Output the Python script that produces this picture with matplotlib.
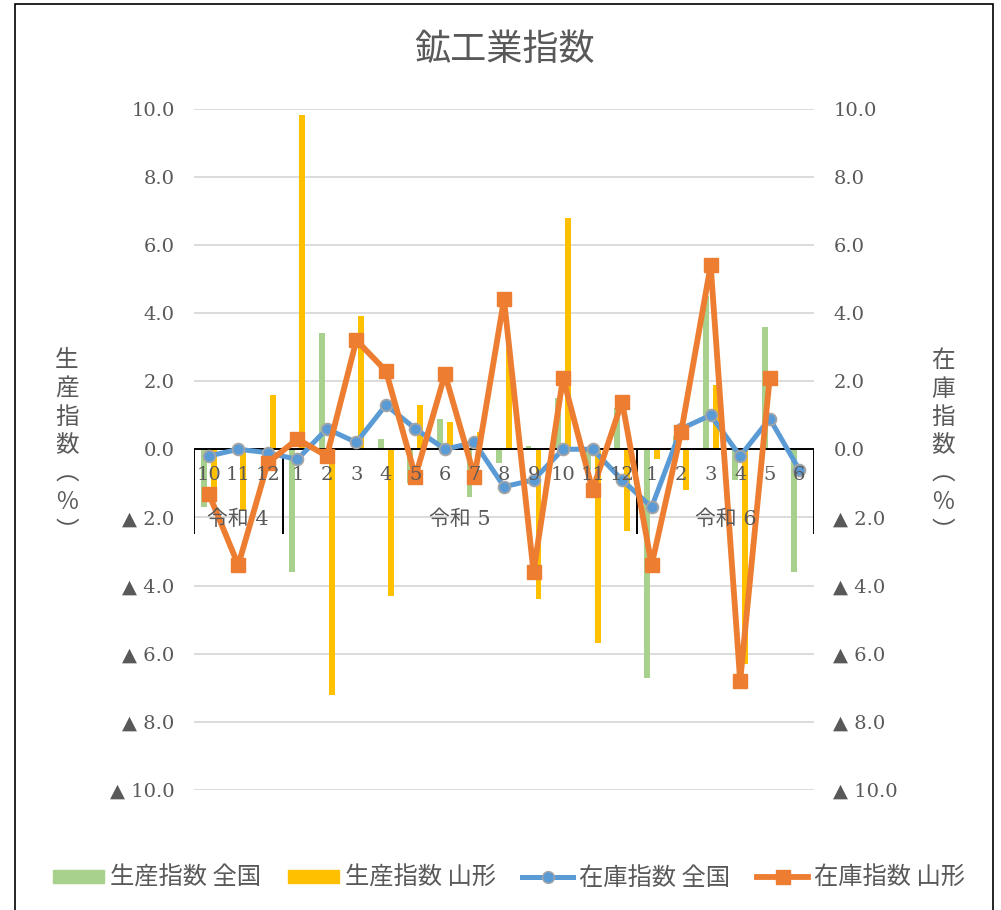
import numpy as np
import matplotlib.pyplot as plt
from matplotlib.lines import Line2D
from matplotlib.patches import Patch, Rectangle

plt.rcParams['font.family'] = ['Noto Sans CJK JP', 'DejaVu Sans']

# data (前年同月比 %)
months = ['10', '11', '12',
          '1', '2', '3', '4', '5', '6', '7', '8', '9', '10', '11', '12',
          '1', '2', '3', '4', '5', '6']
eras = ['令和 4', '令和 5', '令和 6']
era_len = [3, 12, 6]

prod_all = [-1.7, 0.0, -0.1,
            -3.6, 3.4, 0.0, 0.3, -1.0, 0.9, -1.4, -0.4, 0.1, 1.5, -0.6, 1.2,
            -6.7, 0.4, 4.5, -0.9, 3.6, -3.6]
prod_yama = [-1.2, -1.8, 1.6,
             9.8, -7.2, 3.9, -4.3, 1.3, 0.8, 0.5, 3.0, -4.4, 6.8, -5.7, -2.4,
             -0.3, -1.2, 1.9, -6.3, 0.0, np.nan]
stock_all = [-0.2, 0.0, -0.1,
             -0.3, 0.6, 0.2, 1.3, 0.6, 0.0, 0.2, -1.1, -0.9, 0.0, 0.0, -0.9,
             -1.7, 0.6, 1.0, -0.2, 0.9, -0.6]
stock_yama = [-1.3, -3.4, -0.4,
              0.3, -0.2, 3.2, 2.3, -0.8, 2.2, -0.8, 4.4, -3.6, 2.1, -1.2, 1.4,
              -3.4, 0.5, 5.4, -6.8, 2.1, np.nan]

labels = ['生産指数 全国', '生産指数 山形', '在庫指数 全国', '在庫指数 山形']
c_green, c_yellow, c_blue, c_orange = '#A9D18E', '#FFC000', '#5B9BD5', '#ED7D31'
grey = '#595959'
serif = ['DejaVu Serif', 'DejaVu Sans']

W, H = 1001, 910
fig = plt.figure(figsize=(W / 100, H / 100), dpi=100)
ax = fig.add_axes([194 / W, 1 - 790 / H, 620 / W, (790 - 108.5) / H])

x = np.arange(len(months))
ax.bar(x - 0.17, prod_all, 0.2, color=c_green, zorder=2)
ax.bar(x + 0.17, prod_yama, 0.2, color=c_yellow, zorder=2)
ax.plot(x, stock_all, color=c_blue, lw=3.6, marker='o', ms=8.5,
        mfc=c_blue, mec='#A5A5A5', mew=1.3, zorder=4)
ax.plot(x, stock_yama, color=c_orange, lw=4.2, marker='s', ms=9.5, zorder=5)

ax.set_xlim(-0.5, len(months) - 0.5)
ax.set_ylim(-10, 10)
yt = np.arange(-10, 11, 2)
ax.set_yticks(yt)
ax.grid(axis='y', color='#D9D9D9', lw=1.3)
ax.set_axisbelow(True)
ax.set_xticks([])
for s in ax.spines.values():
    s.set_visible(False)

def fmt(v):
    return '▲ %.1f' % abs(v) if v < 0 else '%.1f' % v

ax.set_yticklabels([fmt(v) for v in yt], family=serif, fontsize=14, color=grey)
ax.tick_params(axis='y', length=0, pad=14)

ax2 = ax.twinx()
ax2.set_ylim(-10, 10)
ax2.set_yticks(yt)
ax2.set_yticklabels([fmt(v) for v in yt], family=serif, fontsize=14, color=grey)
ax2.tick_params(axis='y', length=0, pad=14)
ax2.set_xticks([])
for s in ax2.spines.values():
    s.set_visible(False)

# category axis
ax.axhline(0, color='black', lw=1.4, zorder=3)
bounds = np.concatenate([[0], np.cumsum(era_len)]) - 0.5
ax.vlines(bounds, -2.5, 0, color='black', lw=1.4, zorder=3)
for i, m in enumerate(months):
    ax.text(i, -0.75, m, ha='center', va='center', fontsize=14,
            family=serif, color=grey, zorder=6)
for k, e in enumerate(eras):
    ax.text((bounds[k] + bounds[k + 1]) / 2, -2.05, e, ha='center', va='center',
            fontsize=15, family=serif[:1] + ['Noto Sans CJK JP'], color=grey, zorder=6)

fig.text(505 / W, 1 - 50 / H, '鉱工業指数', ha='center', va='center',
         fontsize=26, color=grey)
fig.text(67 / W, 1 - 446 / H, '生\n産\n指\n数\n︵\n％\n︶', ha='center', va='center',
         fontsize=17, color=grey, linespacing=1.3)
fig.text(943 / W, 1 - 446 / H, '在\n庫\n指\n数\n︵\n％\n︶', ha='center', va='center',
         fontsize=17, color=grey, linespacing=1.3)

handles = [Patch(color=c_green), Patch(color=c_yellow),
           Line2D([], [], color=c_blue, lw=3.6, marker='o', ms=8.5, mfc=c_blue, mec='#A5A5A5'),
           Line2D([], [], color=c_orange, lw=4.2, marker='s', ms=9.5)]
leg = fig.legend(handles, labels, loc='center', bbox_to_anchor=(509 / W, 1 - 878 / H),
                 ncol=4, frameon=False, fontsize=17.5, handlelength=2.1, handleheight=0.45,
                 handletextpad=0.25, columnspacing=1.1)
for t in leg.get_texts():
    t.set_color(grey)

fig.add_artist(Rectangle((15 / W, -0.02), (993 - 15) / W, 1.02 - 4 / H, fill=False,
                         ec='black', lw=1.2, transform=fig.transFigure))

fig.savefig('out.png', dpi=100)
